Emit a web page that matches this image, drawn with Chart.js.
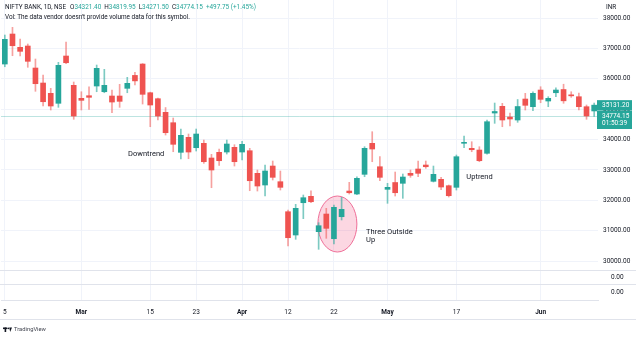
<!DOCTYPE html>
<html>
<head>
<meta charset="utf-8">
<script src="https://cdn.jsdelivr.net/npm/chart.js@4.4.0/dist/chart.umd.min.js"></script>
<style>
  html, body { margin: 0; padding: 0; background: #fff; }
  #wrap { width: 640px; height: 340px; position: relative; }
</style>
</head>
<body>
<div id="wrap"><canvas id="chart"></canvas></div>
<script>
// NIFTY BANK daily candles, Feb 15 - Jun 10 2021
const dates = [
  '2021-02-15','2021-02-16','2021-02-17','2021-02-18','2021-02-19',
  '2021-02-22','2021-02-23','2021-02-24','2021-02-25','2021-02-26',
  '2021-03-01','2021-03-02','2021-03-03','2021-03-04','2021-03-05',
  '2021-03-08','2021-03-09','2021-03-10','2021-03-12','2021-03-15',
  '2021-03-16','2021-03-17','2021-03-18','2021-03-19','2021-03-22',
  '2021-03-23','2021-03-24','2021-03-25','2021-03-26','2021-03-30',
  '2021-03-31','2021-04-01','2021-04-05','2021-04-06','2021-04-07',
  '2021-04-08','2021-04-09','2021-04-12','2021-04-13','2021-04-15',
  '2021-04-16','2021-04-19','2021-04-20','2021-04-22','2021-04-23',
  '2021-04-26','2021-04-27','2021-04-28','2021-04-29','2021-04-30',
  '2021-05-03','2021-05-04','2021-05-05','2021-05-06','2021-05-07',
  '2021-05-10','2021-05-11','2021-05-12','2021-05-14','2021-05-17',
  '2021-05-18','2021-05-19','2021-05-20','2021-05-21','2021-05-24',
  '2021-05-25','2021-05-26','2021-05-27','2021-05-28','2021-05-31',
  '2021-06-01','2021-06-02','2021-06-03','2021-06-04','2021-06-07',
  '2021-06-08','2021-06-09','2021-06-10'
];
const open = [
  36485, 37473, 37035, 37078, 36354, 35860, 35521, 35192, 36749, 35784,
  35356, 35442, 35761, 35573, 35432, 35432, 35685, 36110, 36485, 35540,
  35343, 34895, 34553, 33578, 34072, 33730, 33875, 33391, 33578, 33588,
  33743, 33588, 33631, 32887, 32502, 33127, 32611, 31623, 30856, 31919,
  32130, 30965, 31547, 30734, 31458, 32304, 32206, 32854, 33875, 33104,
  32360, 32584, 32558, 32887, 33029, 33160, 32624, 32690, 32479, 32426,
  33875, 33710, 33654, 33546, 34872, 35093, 34740, 34642, 35333, 35080,
  35629, 35267, 35540, 35646, 35471, 35409, 35080, 34940
];
const high = [
  37440, 37693, 37308, 37144, 36650, 36123, 35685, 36541, 37209, 35893,
  35573, 35738, 36452, 36311, 35629, 35817, 36047, 36210, 36500, 35560,
  35360, 35053, 34708, 34345, 34181, 34345, 33983, 33513, 33687, 33983,
  33829, 33941, 33710, 32996, 33160, 33292, 32963, 31679, 31867, 32173,
  32314, 31261, 31735, 31844, 32097, 32591, 32775, 33763, 34257, 33434,
  32558, 32930, 32864, 32996, 33292, 33292, 33127, 32755, 32502, 33490,
  34115, 33927, 33763, 34642, 35201, 35192, 34872, 35317, 35521, 35573,
  35738, 35409, 35705, 35820, 35573, 35531, 35136, 35200
];
const low = [
  36396, 36759, 36749, 36377, 35587, 35103, 34971, 35060, 36495, 34665,
  34971, 34994, 35573, 35540, 34882, 35060, 35540, 35800, 35168, 34421,
  34642, 34148, 33598, 33358, 33368, 33621, 33216, 32413, 33150, 33522,
  33127, 33325, 32314, 32304, 32140, 32667, 32337, 30494, 30714, 31393,
  31919, 30385, 30747, 30560, 31350, 32206, 32183, 32775, 33269, 32643,
  31899, 32140, 32064, 32755, 32775, 33052, 32601, 32347, 32107, 32337,
  33730, 33598, 33269, 33520, 34533, 34421, 34444, 34566, 34971, 34948,
  35211, 35080, 35409, 35192, 35389, 34971, 34665, 34760
];
const close = [
  37298, 37088, 36903, 36574, 35837, 35244, 35103, 36443, 36528, 34773,
  35290, 35389, 36344, 35784, 35234, 35257, 35850, 35930, 35488, 35136,
  34773, 34224, 33842, 34138, 33588, 34181, 33269, 32996, 33302, 33852,
  33269, 33842, 32643, 32469, 32963, 32755, 32426, 30767, 31735, 32084,
  31952, 31162, 31076, 31768, 31702, 32248, 32723, 33710, 33687, 32755,
  32426, 32248, 32765, 32821, 32887, 33104, 32854, 32436, 32150, 33434,
  33908, 33664, 33302, 34586, 34922, 34642, 34675, 35086, 35126, 35521,
  35323, 35356, 35629, 35274, 35438, 35080, 34774.15, 35131.20
];

// time axis labels
const tickDates = ['2021-02-15','2021-03-01','2021-03-15','2021-03-23','2021-04-01',
                   '2021-04-12','2021-04-22','2021-05-03','2021-05-17','2021-06-01'];
const tickText = ['5','Mar','15','23','Apr','12','22','May','17','Jun'];
const priceTicks = [30000, 31000, 32000, 33000, 34000, 35000, 36000, 37000, 38000];

const lastPrice = 34774.15;
const livePrice = 35131.20;

const FONT = 'Roboto, "Noto Sans", sans-serif';
const UP = '#26a69a', DOWN = '#ef5350';
const UP_WICK = 'rgba(38,166,154,0.6)', DOWN_WICK = 'rgba(239,83,80,0.55)';
const GRID = '#f0f3fa', SEP = '#e0e3eb', TEXT = '#131722';

const isUp = close.map((c, i) => c >= open[i]);
const tickAt = new Map(tickDates.map((d, i) => [dates.indexOf(d), tickText[i]]));

// drawings on the chart, anchored in bar index / price units
const pattern = { from: 40.9, to: 46.0, high: 32140, low: 30296 };
const notes = [
  { lines: ['Downtrend'], at: [16.1, 33522] },
  { lines: ['Uptrend'], at: [60.3, 32755] },
  { lines: ['Three Outside', 'Up'], at: [47.2, 30960] }
];

const overlay = {
  id: 'overlay',
  beforeDatasetsDraw(chart) {
    const { ctx, chartArea, scales: { x, y } } = chart;
    ctx.save();
    // last price line
    const py = Math.round(y.getPixelForValue(lastPrice)) + 0.5;
    ctx.strokeStyle = 'rgba(38,166,154,0.3)';
    ctx.beginPath();
    ctx.moveTo(chartArea.left, py);
    ctx.lineTo(chartArea.right, py);
    ctx.stroke();
    // pattern highlight
    const l = x.getPixelForValue(pattern.from), r = x.getPixelForValue(pattern.to);
    const t = y.getPixelForValue(pattern.high), b = y.getPixelForValue(pattern.low);
    ctx.beginPath();
    ctx.ellipse((l + r) / 2, (t + b) / 2, (r - l) / 2, (b - t) / 2, 0, 0, Math.PI * 2);
    ctx.fillStyle = 'rgba(242,54,112,0.2)';
    ctx.fill();
    ctx.strokeStyle = '#ee6e97';
    ctx.lineWidth = 1;
    ctx.stroke();
    ctx.restore();
  },
  afterDraw(chart) {
    const { ctx, chartArea, scales: { x, y, y2, y3 } } = chart;
    ctx.save();
    // pane separators and frame
    ctx.strokeStyle = SEP;
    ctx.lineWidth = 1;
    [y2.top, y3.top].forEach(v => {
      const yy = Math.round(v) + 0.5;
      ctx.beginPath(); ctx.moveTo(0, yy); ctx.lineTo(636, yy); ctx.stroke();
    });
    const fb = Math.round(x.bottom) + 0.5;
    ctx.beginPath(); ctx.moveTo(0, fb); ctx.lineTo(636, fb); ctx.stroke();

    // annotations
    ctx.fillStyle = TEXT;
    ctx.font = '7.5px ' + FONT;
    ctx.textBaseline = 'middle';
    ctx.textAlign = 'left';
    notes.forEach(n => {
      const nx = x.getPixelForValue(n.at[0]), ny = y.getPixelForValue(n.at[1]);
      n.lines.forEach((s, i) => ctx.fillText(s, nx, ny + i * 8.5));
    });

    // legend header
    let hx = 5;
    const seg = (s, c, gap) => { ctx.fillStyle = c; ctx.fillText(s, hx, 7.5); hx += ctx.measureText(s).width + (gap || 0); };
    ctx.font = '6.4px ' + FONT;
    seg('NIFTY BANK, 1D, NSE', TEXT, 4);
    seg('O', TEXT); seg('34321.40', UP, 3);
    seg('H', TEXT); seg('34819.95', UP, 3);
    seg('L', TEXT); seg('34271.50', UP, 3);
    seg('C', TEXT); seg('34774.15', UP, 3);
    seg('+497.75 (+1.45%)', UP);
    ctx.fillStyle = TEXT;
    ctx.fillText("Vol: The data vendor doesn't provide volume data for this symbol.", 5, 17.5);

    // price scale currency and price tags
    const ax = chartArea.right;
    ctx.fillText('INR', ax + 8, 7.5);
    const tag = (price, lines) => {
      const ty = y.getPixelForValue(price);
      const h = 3 + lines.length * 7.5;
      ctx.fillStyle = UP;
      ctx.fillRect(ax - 1, ty - 5, 35, h);
      ctx.fillStyle = '#fff';
      lines.forEach((s, i) => ctx.fillText(s, ax + 4, ty + i * 7.5));
    };
    ctx.font = '6.5px ' + FONT;
    tag(livePrice, [livePrice.toFixed(2)]);
    tag(lastPrice, [lastPrice.toFixed(2), '01:50:39']);

    // footer mark
    ctx.fillStyle = TEXT;
    ctx.fillRect(3, 327.5, 4, 1.6);
    ctx.fillRect(4.6, 327.5, 1.6, 4.5);
    ctx.beginPath(); ctx.arc(8.2, 328.3, 0.9, 0, Math.PI * 2); ctx.fill();
    ctx.beginPath(); ctx.moveTo(9.2, 327.5); ctx.lineTo(12, 327.5); ctx.lineTo(10.2, 332); ctx.closePath(); ctx.fill();
    ctx.font = '5.8px ' + FONT;
    ctx.fillStyle = '#434651';
    ctx.fillText('TradingView', 14, 330);
    ctx.restore();
  }
};

// the y scales should not ask for extra room above or below the panes
const fitRight = s => { s.width = 42; s.paddingTop = 0; s.paddingBottom = 0; };

const smallPane = (weight) => ({
  position: 'right', stack: 'panes', stackWeight: weight,
  min: -1, max: 1,
  afterBuildTicks: s => { s.ticks = [{ value: 0 }]; },
  ticks: { padding: 5, color: TEXT, font: { family: FONT, size: 6.5 }, callback: () => '0.00' },
  grid: { display: false },
  border: { display: false },
  afterFit: fitRight
});

new Chart(document.getElementById('chart'), {
  type: 'bar',
  data: {
    labels: dates,
    datasets: [{
      label: 'body',
      data: dates.map((d, i) => [open[i], close[i]]),
      backgroundColor: ctx => isUp[ctx.dataIndex] ? UP : DOWN,
      barThickness: 5,
      minBarLength: 1,
      grouped: false,
      yAxisID: 'y',
      order: 1
    }, {
      label: 'wick',
      data: dates.map((d, i) => [low[i], high[i]]),
      backgroundColor: ctx => isUp[ctx.dataIndex] ? UP_WICK : DOWN_WICK,
      barThickness: 1,
      grouped: false,
      yAxisID: 'y',
      order: 2
    }]
  },
  options: {
    responsive: true,
    maintainAspectRatio: false,
    animation: false,
    layout: { padding: { left: 1, top: 0, right: 0, bottom: 21 } },
    plugins: {
      legend: { display: false },
      tooltip: { enabled: false }
    },
    scales: {
      x: {
        offset: true,
        grid: {
          offset: false,
          drawTicks: false,
          color: ctx => tickAt.has(ctx.index) ? GRID : 'transparent'
        },
        border: { display: true, color: SEP },
        ticks: {
          autoSkip: false, maxRotation: 0, minRotation: 0, padding: 8,
          color: TEXT,
          font: ctx => ({ family: FONT, size: 6.5,
            weight: /^[A-Z]/.test(tickAt.get(ctx.index) || '') ? 'bold' : 'normal' }),
          callback: (v, i) => tickAt.get(i) || ''
        },
        afterFit: s => { s.height = 19; s.paddingLeft = 0; s.paddingRight = 0; }
      },
      y: {
        position: 'right', stack: 'panes', stackWeight: 270,
        min: 29704, max: 38593,
        afterBuildTicks: s => { s.ticks = priceTicks.map(v => ({ value: v })); },
        ticks: { padding: 5, color: TEXT, font: { family: FONT, size: 6.5 }, callback: v => v.toFixed(2) },
        grid: { color: GRID, drawTicks: false },
        border: { display: false },
        afterFit: fitRight
      },
      y2: smallPane(14),
      y3: smallPane(16)
    }
  },
  plugins: [overlay]
});
</script>
</body>
</html>
